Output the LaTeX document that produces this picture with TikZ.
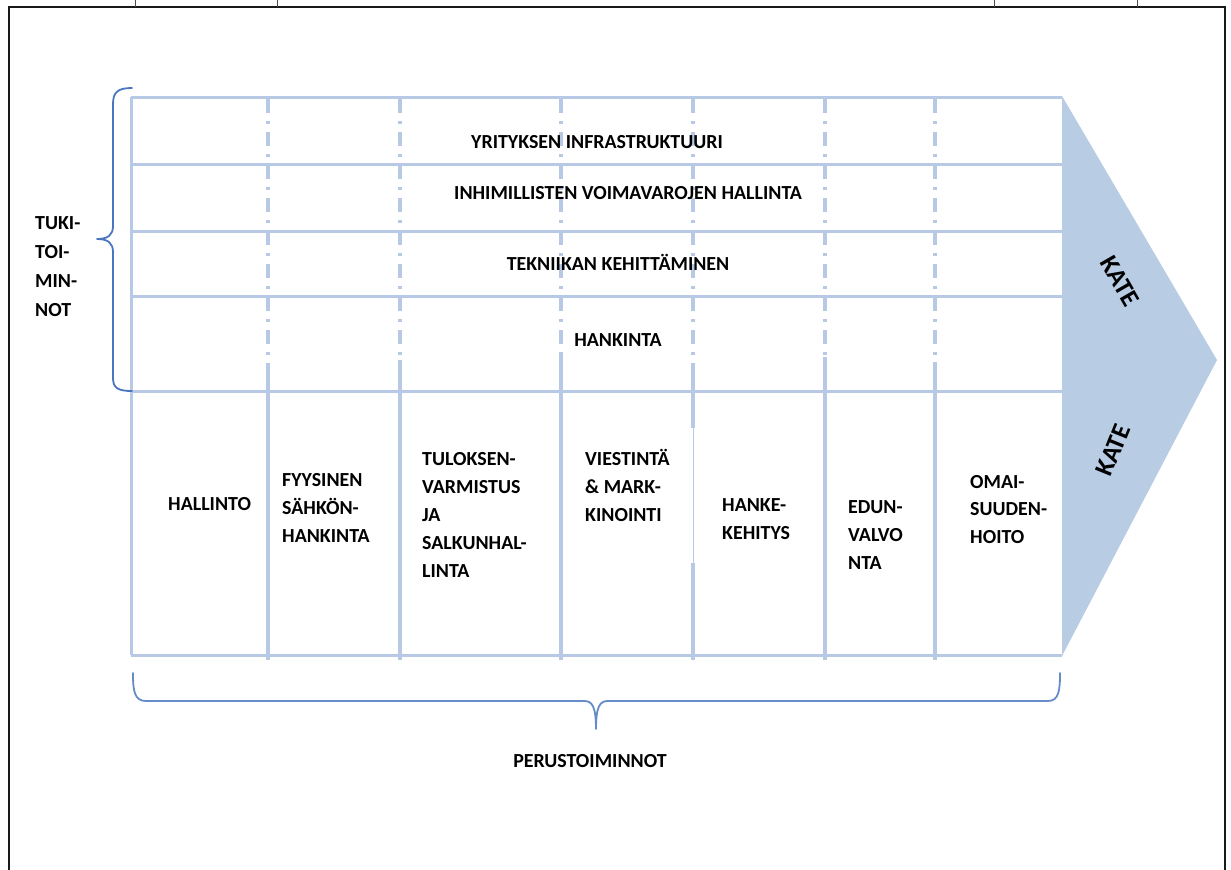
\documentclass[tikz,border=0pt]{standalone}
\usepackage{fontspec}
\setmainfont{Carlito}
\definecolor{gridblue}{RGB}{183,201,229}
\definecolor{arrowfill}{RGB}{184,204,228}
\definecolor{braceblue}{RGB}{74,118,192}
\begin{document}
\begin{tikzpicture}[x=1bp,y=-1bp,
  gridline/.style={draw=gridblue,line width=3bp},
  dashdotv/.style={draw=gridblue,line width=3.5bp,dash pattern=on 14bp off 8bp on 3bp off 8bp},
  solidv/.style={draw=gridblue,line width=3.5bp},
  bracepath/.style={draw=braceblue,line width=1.8bp,line cap=round,line join=round},
  lbl/.style={font=\fontsize{20}{28}\selectfont\bfseries,inner sep=0pt,text=black},
  cell/.style={lbl,anchor=base west},
  rowlbl/.style={lbl,anchor=base},
  katelbl/.style={font=\fontsize{26}{28}\selectfont\bfseries,inner sep=0pt,text=black}]
\useasboundingbox (0,0) rectangle (1231,870);

% page frame
\draw[line width=2.6bp,black!90] (9,880) -- (9,7) -- (1225,7) -- (1225,880);
\foreach \tx in {135,277,994,1137}
  \draw[line width=0.8bp,black!70] (\tx,0) -- (\tx,7);

% margin arrow
\fill[arrowfill] (1062,96) -- (1217,360) -- (1062,656) -- cycle;

% vertical separators: dash-dot in the support rows, solid below
\foreach \vx/\vy in {268/364,400/360,561/352,693/368,825/357,935/362}{
  \draw[dashdotv] (\vx,99) -- (\vx,\vy);
  \draw[solidv] (\vx,\vy) -- (\vx,660);
}
% thin stretch in one separator
\fill[white] (690,428) rectangle (696,563);
\draw[draw=gridblue,line width=0.8bp] (693.5,428) -- (693.5,563);

% horizontal grid lines and left edge
\foreach \hy in {97,164,231,296,391,655}
  \draw[gridline] (131,\hy) -- (1062,\hy);
\draw[gridline] (131,97) -- (131,655);

% support activities
\node[rowlbl] (infra) at (597,148) {YRITYKSEN INFRASTRUKTUURI};
\node[rowlbl] (hr) at (628,199) {INHIMILLISTEN VOIMAVAROJEN HALLINTA};
\node[rowlbl] (tech) at (618,270) {TEKNIIKAN KEHITTÄMINEN};
\node[rowlbl] (procure) at (618,346) {HANKINTA};

% primary activities
\node[cell] (hallinto) at (168,510) {HALLINTO};
\foreach \t [count=\i] in {FYYSINEN,SÄHKÖN-,HANKINTA}
  \node[cell] (fyys-\i) at (282,486+28*\i-28) {\t};
\foreach \t [count=\i] in {TULOKSEN-,VARMISTUS,JA,SALKUNHAL-,LINTA}
  \node[cell] (tulos-\i) at (422,465+28.2*\i-28.2) {\t};
\foreach \t [count=\i] in {VIESTINTÄ,\& MARK-,KINOINTI}
  \node[cell] (viest-\i) at (585,465+28*\i-28) {\t};
\foreach \t [count=\i] in {HANKE-,KEHITYS}
  \node[cell] (hanke-\i) at (722,511+28*\i-28) {\t};
\foreach \t [count=\i] in {EDUN-,VALVO,NTA}
  \node[cell] (edun-\i) at (848,513+28*\i-28) {\t};
\foreach \t [count=\i] in {OMAI-,SUUDEN-,HOITO}
  \node[cell] (omai-\i) at (970,488+27.5*\i-27.5) {\t};

% margin labels
\node[katelbl,rotate=-60] (kate-up) at (1120,281) {KATE};
\node[katelbl,rotate=68] (kate-down) at (1113,450) {KATE};

% left brace and its label
\draw[bracepath] (132,88) .. controls (118,88) and (113,92) .. (113,104)
  -- (113,226) .. controls (113,235) and (108,239) .. (97,239)
  .. controls (108,239) and (113,243) .. (113,252)
  -- (113,378) .. controls (113,388) and (118,391) .. (132,391);
\foreach \t [count=\i] in {TUKI-,TOI-,MIN-,NOT}
  \node[cell] (tuki-\i) at (35,229+29*\i-29) {\t};

% bottom brace and its label
\draw[bracepath,draw=braceblue!85] (133,673) .. controls (133,690) and (134,701) .. (146,701)
  -- (584,701) .. controls (592,701) and (596,706) .. (596,729)
  .. controls (596,706) and (600,701) .. (608,701)
  -- (1048,701) .. controls (1059,701) and (1060,690) .. (1060,673);
\node[rowlbl] (perus) at (590,767) {PERUSTOIMINNOT};
\end{tikzpicture}
\end{document}
